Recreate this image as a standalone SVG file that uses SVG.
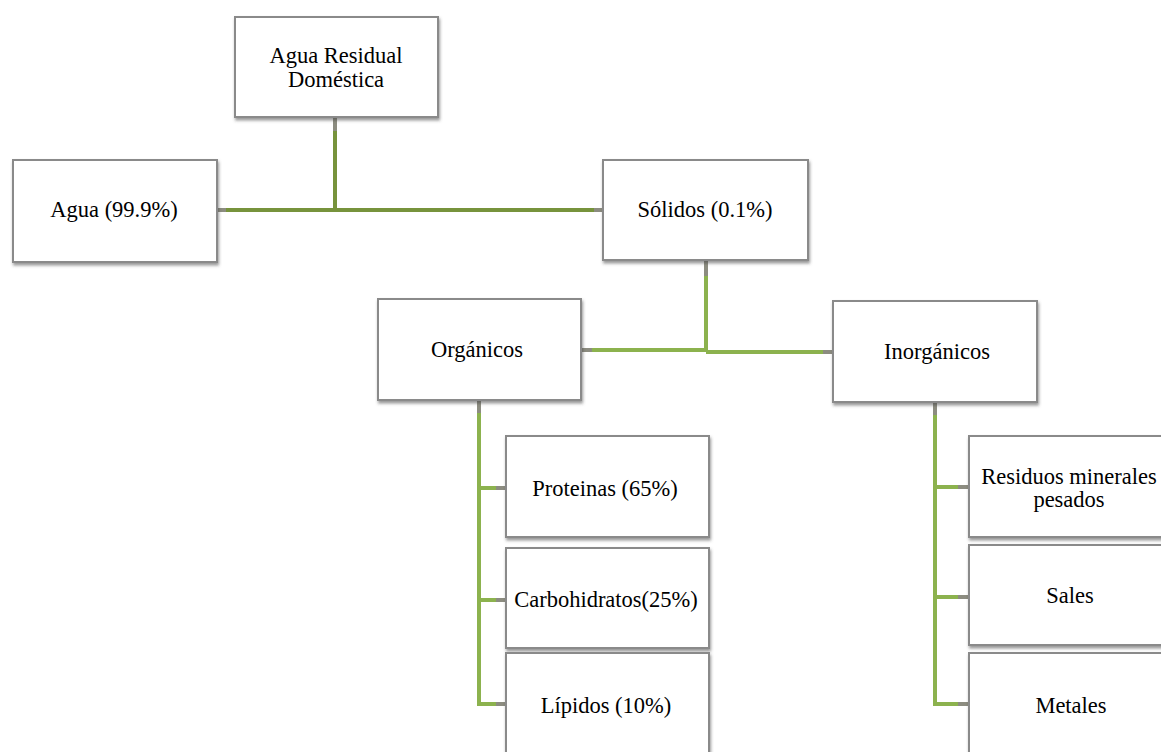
<svg xmlns="http://www.w3.org/2000/svg" width="1161" height="752" viewBox="0 0 1161 752">
<defs>
<filter id="sh" x="-5%" y="-5%" width="115%" height="120%">
<feDropShadow dx="1" dy="2.5" stdDeviation="1.5" flood-color="#444" flood-opacity="0.55"/>
</filter>
</defs>
<style>
.box{fill:#fff;stroke:#8a8a8a;stroke-width:2;filter:url(#sh)}
.t{font-family:"Liberation Serif","Times New Roman",serif;font-size:22.5px;fill:#000;text-anchor:middle}
.g1{stroke:#77933c;stroke-width:4;fill:none}
.g2{stroke:#8cb24e;stroke-width:4;fill:none}
.st{stroke:#8c8c80;stroke-width:4;fill:none}
</style>
<rect width="1161" height="752" fill="#fff"/>
<g id="connectors">
<path class="g1" d="M335,131 V210 M226,210 H594"/>
<path class="st" d="M335,118 V131 M218,210 H226 M594,210 H603"/>
<path class="g2" d="M706,276 V351 M592,350 H706 M706,352 H823"/>
<path class="st" d="M706,261 V276 M581,350 H592 M823,352 H833"/>
<path class="g2" d="M479,413 V704 H496 M479,488 H496 M479,600 H496"/>
<path class="st" d="M479,401 V413 M496,488 H506 M496,600 H506 M496,704 H506"/>
<path class="g2" d="M935,415 V704 H958 M935,487 H958 M935,597 H958"/>
<path class="st" d="M935,403 V415 M958,487 H969 M958,597 H969 M958,704 H969"/>
</g>
<g id="n-agua-residual">
<rect class="box" x="235" y="17" width="203" height="100"/>
<text class="t" x="336" y="63">Agua Residual</text>
<text class="t" x="336" y="87">Doméstica</text>
</g>
<g id="n-agua">
<rect class="box" x="13" y="160" width="204" height="102"/>
<text class="t" x="114" y="217">Agua (99.9%)</text>
</g>
<g id="n-solidos">
<rect class="box" x="603" y="160" width="205" height="100"/>
<text class="t" x="705" y="217">Sólidos (0.1%)</text>
</g>
<g id="n-organicos">
<rect class="box" x="378" y="299" width="203" height="101"/>
<text class="t" x="477" y="357">Orgánicos</text>
</g>
<g id="n-inorganicos">
<rect class="box" x="833" y="301" width="204" height="101"/>
<text class="t" x="937" y="359">Inorgánicos</text>
</g>
<g id="n-proteinas">
<rect class="box" x="506" y="436" width="203" height="101"/>
<text class="t" x="605" y="496">Proteinas (65%)</text>
</g>
<g id="n-carbohidratos">
<rect class="box" x="506" y="548" width="203" height="100"/>
<text class="t" x="606" y="607">Carbohidratos(25%)</text>
</g>
<g id="n-lipidos">
<rect class="box" x="506" y="653" width="203" height="104"/>
<text class="t" x="606" y="713">Lípidos (10%)</text>
</g>
<g id="n-residuos">
<rect class="box" x="969" y="436" width="205" height="101"/>
<text class="t" x="1069" y="484">Residuos minerales</text>
<text class="t" x="1069" y="507">pesados</text>
</g>
<g id="n-sales">
<rect class="box" x="969" y="545" width="205" height="100"/>
<text class="t" x="1070" y="603">Sales</text>
</g>
<g id="n-metales">
<rect class="box" x="969" y="653" width="205" height="104"/>
<text class="t" x="1071" y="713">Metales</text>
</g>
</svg>
